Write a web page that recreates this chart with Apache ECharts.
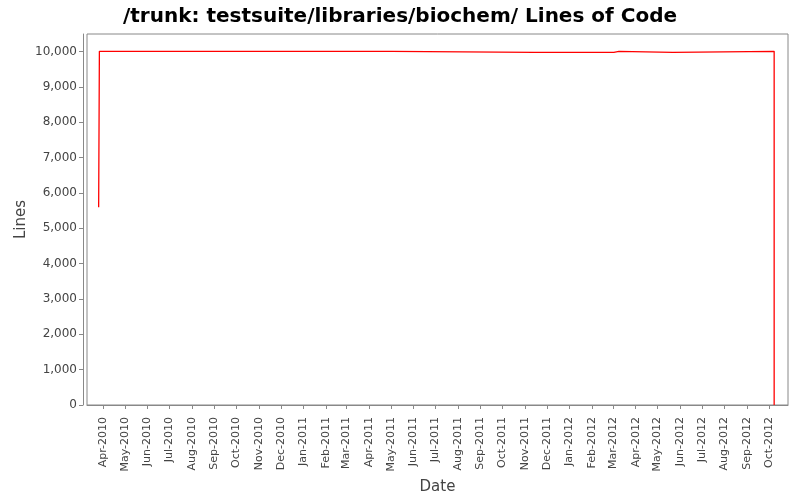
<!DOCTYPE html>
<html>
<head>
<meta charset="utf-8">
<script src="https://cdn.jsdelivr.net/npm/echarts@6/dist/echarts.min.js"></script>
<style>html,body{margin:0;padding:0;background:#fff}#c{width:800px;height:500px}</style>
</head>
<body>
<div id="c"></div>
<script>
const titleText = '/trunk: testsuite/libraries/biochem/ Lines of Code';
const dates = ['2010-03-26','2010-03-27','2011-05-02','2011-11-14','2011-11-15','2012-03-02','2012-03-09','2012-05-22','2012-10-08'];
const lines = [5600, 10010, 9980, 10010, 9980, 10010, 9980, 10010, 0];
const monthNames = ['Jan','Feb','Mar','Apr','May','Jun','Jul','Aug','Sep','Oct','Nov','Dec'];
const yTicks = [0,1000,2000,3000,4000,5000,6000,7000,8000,9000,10000];

function ts(s){ const p = s.split('-').map(Number); return Date.UTC(p[0], p[1]-1, p[2]); }
const monthTicks = [];
for (let y = 2010, m = 3; y < 2012 || (y === 2012 && m <= 9); ) {
  monthTicks.push(Date.UTC(y, m, 1));
  m++; if (m > 11) { m = 0; y++; }
}
// step-after path: value holds until the next change
const stepData = [];
dates.forEach((d, i) => {
  const t = ts(d);
  if (i > 0) stepData.push([t, lines[i-1]]);
  stepData.push([t, lines[i]]);
});
const chart = echarts.init(document.getElementById('c'), null, {renderer:'canvas'});
chart.setOption({
  animation:false,
  backgroundColor:'#fff',
  title:{text:titleText,left:'center',top:2,textStyle:{fontFamily:'DejaVu Sans',fontWeight:'bold',fontSize:20,color:'#000'}},
  grid:{left:87,right:12,top:34,bottom:95,outerBoundsMode:'none',containLabel:false,show:true,borderColor:'#888',borderWidth:1,backgroundColor:'#fff'},
  xAxis:{
    type:'value',min:ts('2010-03-10'),max:ts('2012-10-27'),
    offset:4,
    name:'Date',nameLocation:'middle',nameGap:71,
    nameTextStyle:{fontFamily:'DejaVu Sans',fontSize:15,color:'#444'},
    axisLine:{show:true,lineStyle:{color:'#888'}},
    axisTick:{show:true,length:4,lineStyle:{color:'#888'},customValues:monthTicks},
    axisLabel:{rotate:90,margin:8,fontFamily:'DejaVu Sans',fontSize:11,color:'#444',customValues:monthTicks,
      formatter:function(v){const d=new Date(v);return monthNames[d.getUTCMonth()]+'-'+d.getUTCFullYear();}},
    splitLine:{show:false}
  },
  yAxis:{
    type:'value',min:0,max:10500,
    offset:4,
    name:'Lines',nameLocation:'middle',nameGap:54,nameMoveOverlap:false,
    nameTextStyle:{fontFamily:'DejaVu Sans',fontSize:15,color:'#444'},
    axisLine:{show:true,lineStyle:{color:'#888'}},
    axisTick:{show:true,length:4,lineStyle:{color:'#888'},customValues:yTicks},
    axisLabel:{margin:6,fontFamily:'DejaVu Sans',fontSize:12,color:'#444',customValues:yTicks,
      formatter:function(v){return v.toLocaleString('en-US');}},
    splitLine:{show:false}
  },
  series:[{
    type:'line',showSymbol:false,symbol:'none',
    data:stepData,
    lineStyle:{color:'#ff0000',width:1.3},
    itemStyle:{color:'#ff0000'}
  }]
});
</script>
</body>
</html>
